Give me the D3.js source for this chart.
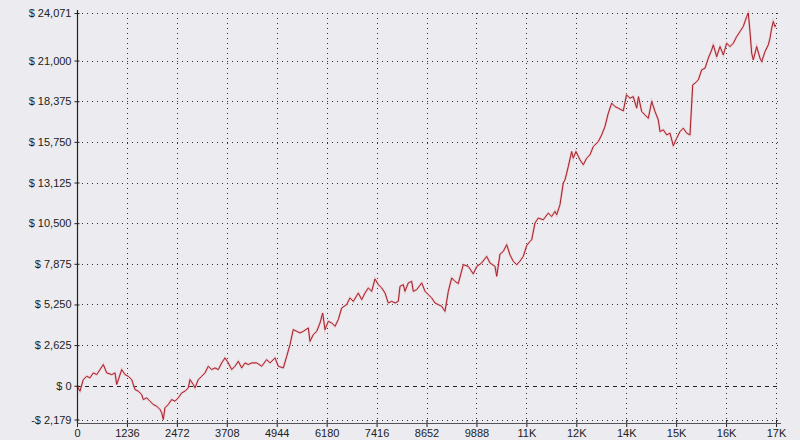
<!DOCTYPE html>
<html>
<head>
<meta charset="utf-8">
<script src="https://cdn.jsdelivr.net/npm/d3@7"></script>
<style>
  html, body { margin: 0; padding: 0; background: #ECEBEF; }
  svg { display: block; }
  text { font-family: "Liberation Sans", Arial, sans-serif; font-size: 11px; fill: #222; }
</style>
</head>
<body>
<svg id="chart" width="800" height="440"></svg>
<script>
// ---- data ----
const trades = [0,74,156,240,322,403,488,569,651,735,859,941,983,1107,1188,1270,1354,1436,1517,1602,1641,1725,1807,1889,1973,2055,2097,2136,2178,2260,2344,2426,2508,2592,2674,2755,2797,2879,2921,3003,3087,3169,3250,3335,3416,3498,3582,3664,3745,3830,3911,3993,4077,4159,4241,4325,4449,4572,4696,4778,4902,4983,5107,5191,5273,5354,5438,5520,5602,5726,5768,5850,5934,6016,6082,6139,6221,6305,6387,6468,6553,6676,6758,6840,6964,7048,7130,7211,7295,7377,7459,7543,7625,7706,7790,7872,7954,7996,8077,8120,8201,8285,8325,8409,8533,8615,8697,8781,8862,8944,9028,9110,9192,9276,9357,9439,9563,9687,9810,9895,10018,10142,10224,10348,10390,10471,10553,10637,10719,10801,10885,10967,11048,11132,11214,11256,11338,11420,11543,11667,11751,11833,11875,11956,12038,12080,12123,12162,12246,12286,12352,12452,12533,12617,12699,12781,12905,12989,13070,13152,13236,13318,13400,13524,13603,13690,13771,13855,13900,13979,14061,14143,14227,14309,14390,14432,14514,14598,14680,14762,14846,14928,15009,15093,15175,15242,15299,15381,15465,15547,15628,15712,15752,15836,15918,16000,16083,16165,16247,16331,16413,16494,16578,16618,16660,16702,16742,16826,16908,16950,17032,17113,17155,17197,17237,17279,17300];
const equity = [0,-350,400,610,510,830,720,1045,1370,830,720,830,80,1045,720,610,400,-245,-350,-570,-890,-780,-1000,-1210,-1320,-1535,-1750,-2179,-1425,-1210,-890,-1000,-780,-460,-350,-135,400,80,-135,400,610,830,1260,1045,1150,1045,1475,1800,1475,1045,1260,1580,1150,1475,1370,1475,1475,1260,1690,1475,1800,1260,1150,1900,2660,3625,3515,3410,3515,3735,2870,3300,3515,4055,4700,3625,4160,4055,3840,4270,5025,5240,5670,5450,5990,5560,5990,6315,6100,6895,6530,6315,5990,5345,5450,5345,5450,6420,6530,6100,6640,6745,6100,6205,6640,6100,5880,5670,5345,5240,5130,4805,6100,6960,6745,6600,7820,7710,7220,7700,7930,8355,7930,7710,7065,8500,8675,9110,8450,8030,7820,8050,8355,9050,9320,9430,10510,10830,10720,11150,10935,11260,11040,11690,13090,13300,13730,14160,15125,14700,15125,14590,14270,14700,14910,15450,15770,16200,16740,17600,18250,18030,17925,17750,18780,18570,18670,17925,18670,17710,17490,17275,18355,17710,17170,16415,16525,16200,16310,15500,15990,16415,16635,16310,16200,19430,19540,19750,20400,20505,21150,21690,22010,21250,21900,21365,22120,21900,22120,22550,22875,23200,23840,24071,22875,21470,21040,21900,21150,20935,21580,22010,22440,23090,23520,23200,23300];
const yTickValues = [-2179,0,2625,5250,7875,10500,13125,15750,18375,21000,24071];
const xTickValues = [0,1236,2472,3708,4944,6180,7416,8652,9888,11124,12360,13596,14832,16068,17304];
const xTickLabels = ["0","1236","2472","3708","4944","6180","7416","8652","9888","11K","12K","14K","15K","16K","17K"];

(function () {
  const svg = d3.select("#chart");
  const mLeft = 77, mRight = 776, mTop = 13, mBottom = 419.5, axisY = 423;
  const x = d3.scaleLinear().domain([0, 17304]).range([mLeft, mRight]);
  const y = d3.scaleLinear().domain([-2179, 24071]).range([mBottom, mTop]);

  const g = svg.append("g");

  // horizontal dotted grid
  g.selectAll(".hgrid").data(yTickValues.filter(v => v !== 0)).enter().append("line")
    .attr("x1", mLeft).attr("x2", 781)
    .attr("y1", d => Math.round(y(d)) + 0.5).attr("y2", d => Math.round(y(d)) + 0.5)
    .attr("stroke", "#333").attr("stroke-width", 1).attr("stroke-dasharray", "1,4");

  // vertical dotted grid
  g.selectAll(".vgrid").data(xTickValues.slice(1)).enter().append("line")
    .attr("x1", d => Math.round(x(d)) + 0.5).attr("x2", d => Math.round(x(d)) + 0.5)
    .attr("y1", mTop).attr("y2", axisY)
    .attr("stroke", "#333").attr("stroke-width", 1).attr("stroke-dasharray", "1,4");

  // zero dashed line
  g.append("line")
    .attr("x1", mLeft).attr("x2", 781)
    .attr("y1", Math.round(y(0)) + 0.5).attr("y2", Math.round(y(0)) + 0.5)
    .attr("stroke", "#222").attr("stroke-width", 1).attr("stroke-dasharray", "4,4");

  // equity line
  const pts = trades.map((t, i) => [t, equity[i]]);
  const line = d3.line().x(d => x(d[0])).y(d => y(d[1]));
  g.append("path").datum(pts)
    .attr("fill", "none").attr("stroke", "#e8a0a8").attr("stroke-width", 2.2).attr("opacity", 0.6)
    .attr("d", line);
  g.append("path").datum(pts)
    .attr("fill", "none").attr("stroke", "#a82028").attr("stroke-width", 1)
    .attr("d", line);

  // y axis
  const yAxis = d3.axisLeft(y).tickValues(yTickValues).tickSizeInner(3).tickSizeOuter(0).tickPadding(3)
    .tickFormat(d => (d < 0 ? "-$ " : "$ ") + d3.format(",")(Math.abs(d)));
  const ya = svg.append("g").attr("transform", `translate(${mLeft + 0.5},0)`).call(yAxis);
  ya.select(".domain").remove();
  ya.selectAll(".tick line").attr("x1", -3).attr("x2", 2).attr("stroke", "#222");
  ya.selectAll("text").attr("fill", "#222");
  svg.append("line").attr("x1", mLeft + 0.5).attr("x2", mLeft + 0.5).attr("y1", 10).attr("y2", axisY + 1)
    .attr("stroke", "#222").attr("stroke-width", 1.2);

  // x axis
  const xAxis = d3.axisBottom(x).tickValues(xTickValues).tickSizeInner(4).tickSizeOuter(0).tickPadding(2)
    .tickFormat((d, i) => xTickLabels[i]);
  const xa = svg.append("g").attr("transform", `translate(0,${axisY})`).call(xAxis);
  xa.select(".domain").remove();
  xa.selectAll(".tick line").attr("y1", -3).attr("y2", 4).attr("stroke", "#222");
  xa.selectAll("text").attr("fill", "#222");
  svg.append("line").attr("x1", mLeft).attr("x2", 781).attr("y1", axisY + 0.5).attr("y2", axisY + 0.5)
    .attr("stroke", "#555").attr("stroke-width", 1.2);
})();
</script>
</body>
</html>
